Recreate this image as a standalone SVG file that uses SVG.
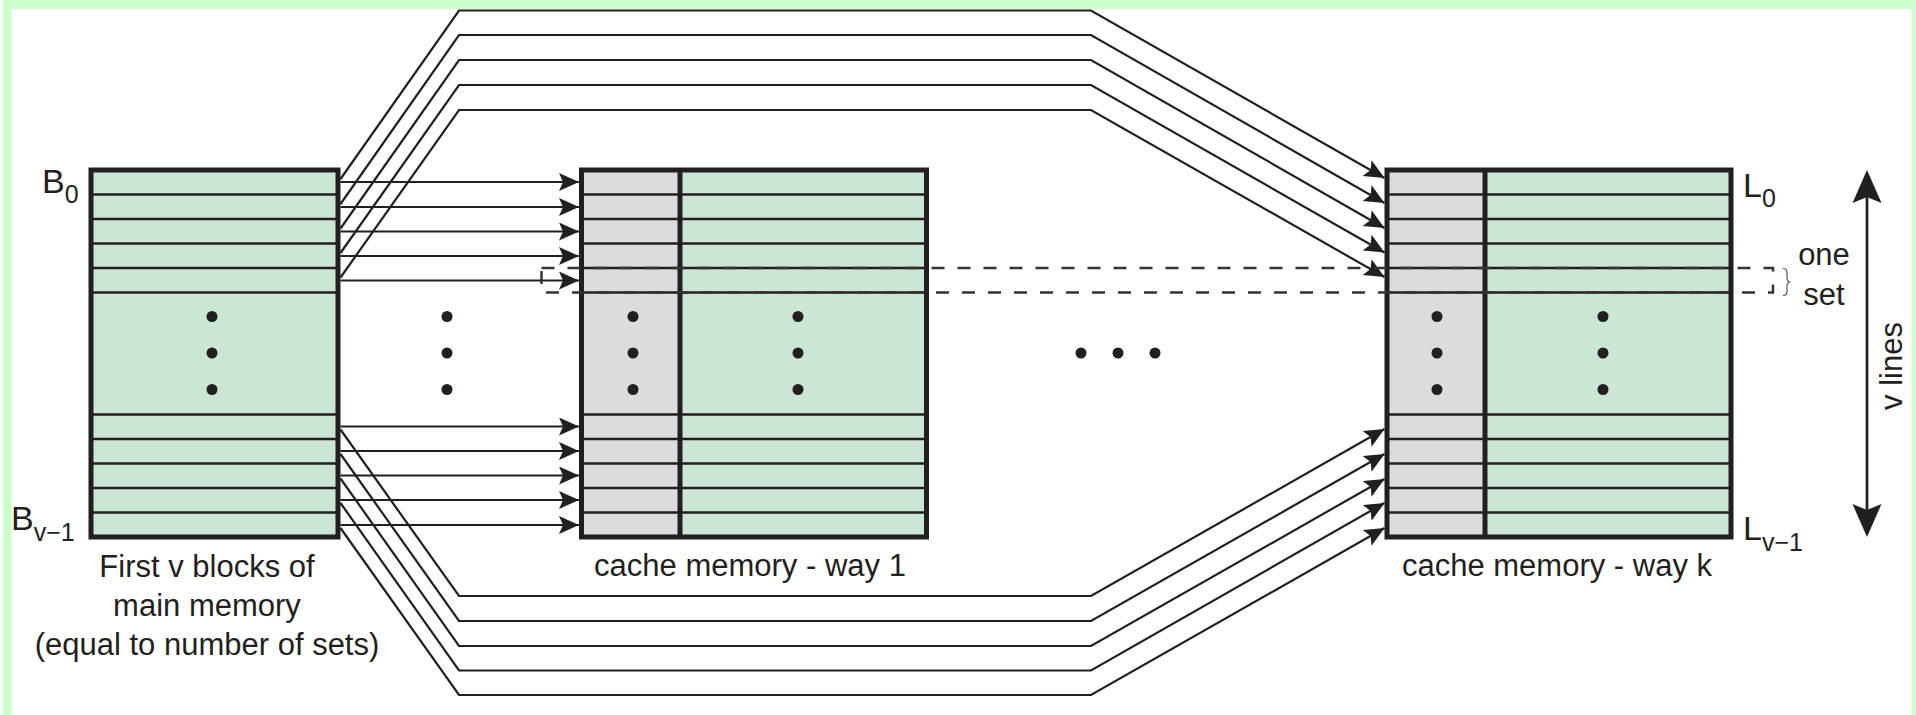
<svg xmlns="http://www.w3.org/2000/svg" width="1916" height="715" viewBox="0 0 1916 715">
<style>
text{font-family:"Liberation Sans",Arial,sans-serif;fill:#231f20}
.lbl{font-size:31px;text-anchor:middle}
.big{font-size:34px}
.sub{font-size:25px}
.box{stroke:#231f20;stroke-width:5;fill:none}
.row{stroke:#231f20;stroke-width:2.5}
.green{fill:#cbe6d5}
.gray{fill:#dcdcde}
.con{stroke:#231f20;stroke-width:2.2;fill:none;marker-end:url(#ah)}
.dot{fill:#231f20}
</style>
<defs>
<marker id="ah" markerUnits="userSpaceOnUse" markerWidth="21" markerHeight="19" refX="20" refY="9" orient="auto">
<path d="M0,0 L20,9 L0,18 L4,9 z" fill="#231f20"/>
</marker>
</defs>
<rect x="0" y="0" width="1916" height="715" fill="#ffffff"/>
<rect x="3" y="0" width="1913" height="715" fill="#ccffcc"/>
<rect x="11.5" y="9" width="1900" height="706" fill="#ffffff"/>

<g id="main-memory">
<rect class="green" x="91" y="170" width="247" height="367"/>
<g class="row">
<line x1="91" y1="194.5" x2="338" y2="194.5"/><line x1="91" y1="219" x2="338" y2="219"/><line x1="91" y1="243.5" x2="338" y2="243.5"/><line x1="91" y1="268" x2="338" y2="268"/><line x1="91" y1="292.5" x2="338" y2="292.5"/>
<line x1="91" y1="414.5" x2="338" y2="414.5"/><line x1="91" y1="439" x2="338" y2="439"/><line x1="91" y1="463.5" x2="338" y2="463.5"/><line x1="91" y1="488" x2="338" y2="488"/><line x1="91" y1="512.5" x2="338" y2="512.5"/>
</g>
<rect class="box" x="91" y="170" width="247" height="367"/>
<circle class="dot" cx="212" cy="316.5" r="5.5"/><circle class="dot" cx="212" cy="353" r="5.5"/><circle class="dot" cx="212" cy="389.5" r="5.5"/>
<text x="42" y="193" class="big">B<tspan class="sub" dy="10">0</tspan></text>
<text x="11" y="530" class="big">B<tspan class="sub" dy="11">v−1</tspan></text>
<text class="lbl" x="207" y="577">First v blocks of</text>
<text class="lbl" x="207" y="616">main memory</text>
<text class="lbl" x="207" y="655">(equal to number of sets)</text>
</g>

<g id="between-dots">
<circle class="dot" cx="447" cy="316.5" r="5.5"/><circle class="dot" cx="447" cy="353" r="5.5"/><circle class="dot" cx="447" cy="389.5" r="5.5"/>
<circle class="dot" cx="1081" cy="353" r="5.5"/><circle class="dot" cx="1118" cy="353" r="5.5"/><circle class="dot" cx="1155" cy="353" r="5.5"/>
</g>

<g id="cache-way-1">
<rect class="gray" x="581.5" y="170" width="98.5" height="367"/>
<rect class="green" x="680" y="170" width="246.5" height="367"/>
<g class="row">
<line x1="581.5" y1="194.5" x2="926.5" y2="194.5"/><line x1="581.5" y1="219" x2="926.5" y2="219"/><line x1="581.5" y1="243.5" x2="926.5" y2="243.5"/><line x1="581.5" y1="268" x2="926.5" y2="268"/><line x1="581.5" y1="292.5" x2="926.5" y2="292.5"/>
<line x1="581.5" y1="414.5" x2="926.5" y2="414.5"/><line x1="581.5" y1="439" x2="926.5" y2="439"/><line x1="581.5" y1="463.5" x2="926.5" y2="463.5"/><line x1="581.5" y1="488" x2="926.5" y2="488"/><line x1="581.5" y1="512.5" x2="926.5" y2="512.5"/>
</g>
<rect class="box" x="581.5" y="170" width="345" height="367"/>
<line x1="680" y1="170" x2="680" y2="537" stroke="#231f20" stroke-width="5"/>
<circle class="dot" cx="633" cy="316.5" r="5.5"/><circle class="dot" cx="633" cy="353" r="5.5"/><circle class="dot" cx="633" cy="389.5" r="5.5"/>
<circle class="dot" cx="798" cy="316.5" r="5.5"/><circle class="dot" cx="798" cy="353" r="5.5"/><circle class="dot" cx="798" cy="389.5" r="5.5"/>
<text class="lbl" x="750" y="576">cache memory - way 1</text>
</g>

<g id="cache-way-k">
<rect class="gray" x="1387" y="170" width="98" height="367"/>
<rect class="green" x="1485" y="170" width="246" height="367"/>
<g class="row">
<line x1="1387" y1="194.5" x2="1731" y2="194.5"/><line x1="1387" y1="219" x2="1731" y2="219"/><line x1="1387" y1="243.5" x2="1731" y2="243.5"/><line x1="1387" y1="268" x2="1731" y2="268"/><line x1="1387" y1="292.5" x2="1731" y2="292.5"/>
<line x1="1387" y1="414.5" x2="1731" y2="414.5"/><line x1="1387" y1="439" x2="1731" y2="439"/><line x1="1387" y1="463.5" x2="1731" y2="463.5"/><line x1="1387" y1="488" x2="1731" y2="488"/><line x1="1387" y1="512.5" x2="1731" y2="512.5"/>
</g>
<rect class="box" x="1387" y="170" width="344" height="367"/>
<line x1="1485" y1="170" x2="1485" y2="537" stroke="#231f20" stroke-width="5"/>
<circle class="dot" cx="1437" cy="316.5" r="5.5"/><circle class="dot" cx="1437" cy="353" r="5.5"/><circle class="dot" cx="1437" cy="389.5" r="5.5"/>
<circle class="dot" cx="1603" cy="316.5" r="5.5"/><circle class="dot" cx="1603" cy="353" r="5.5"/><circle class="dot" cx="1603" cy="389.5" r="5.5"/>
<text class="lbl" x="1557" y="576">cache memory - way k</text>
<text x="1743" y="197" class="big">L<tspan class="sub" dy="10">0</tspan></text>
<text x="1743" y="540" class="big">L<tspan class="sub" dy="11">v−1</tspan></text>
</g>

<g id="connectors">
<line class="con" x1="340.5" y1="182" x2="579" y2="182"/>
<line class="con" x1="340.5" y1="207" x2="579" y2="207"/>
<line class="con" x1="340.5" y1="231.5" x2="579" y2="231.5"/>
<line class="con" x1="340.5" y1="256" x2="579" y2="256"/>
<line class="con" x1="340.5" y1="280.5" x2="579" y2="280.5"/>
<line class="con" x1="340.5" y1="426.5" x2="579" y2="426.5"/>
<line class="con" x1="340.5" y1="451" x2="579" y2="451"/>
<line class="con" x1="340.5" y1="475.5" x2="579" y2="475.5"/>
<line class="con" x1="340.5" y1="500" x2="579" y2="500"/>
<line class="con" x1="340.5" y1="525" x2="579" y2="525"/>
<polyline class="con" points="340.5,179 459,10.5 1091,10.5 1384.5,178"/>
<polyline class="con" points="340.5,204 459,35 1091,35 1384.5,203"/>
<polyline class="con" points="340.5,228.5 459,60 1091,60 1384.5,228"/>
<polyline class="con" points="340.5,253 459,85 1091,85 1384.5,252.5"/>
<polyline class="con" points="340.5,277.5 459,110 1091,110 1384.5,277"/>
<polyline class="con" points="340.5,429.5 459,596 1091,596 1384.5,429"/>
<polyline class="con" points="340.5,454 459,621 1091,621 1384.5,454"/>
<polyline class="con" points="340.5,478.5 459,646 1091,646 1384.5,479"/>
<polyline class="con" points="340.5,503 459,670.5 1091,670.5 1384.5,503"/>
<polyline class="con" points="340.5,528 459,695 1091,695 1384.5,528"/>
</g>

<g id="one-set">
<rect x="541.5" y="268" width="1231.5" height="24.5" fill="none" stroke="#333333" stroke-width="2.5" stroke-dasharray="13 13"/>
<path d="M1783,268.5 q4,0 4,4 v5 q0,4 3,4.5 q-3,0.5 -3,4.5 v5 q0,4 -4,4" fill="none" stroke="#555" stroke-width="1.2"/>
<text class="lbl" x="1824" y="265">one</text>
<text class="lbl" x="1824" y="305">set</text>
</g>

<g id="v-lines">
<line x1="1867" y1="195" x2="1867" y2="512" stroke="#231f20" stroke-width="2.7"/>
<path d="M1867,170 L1881.5,203 L1867,197 L1852.5,203 z" fill="#231f20"/>
<path d="M1867,537 L1881.5,504 L1867,510 L1852.5,504 z" fill="#231f20"/>
<text class="lbl" transform="translate(1902,366) rotate(-90)">v lines</text>
</g>
</svg>
